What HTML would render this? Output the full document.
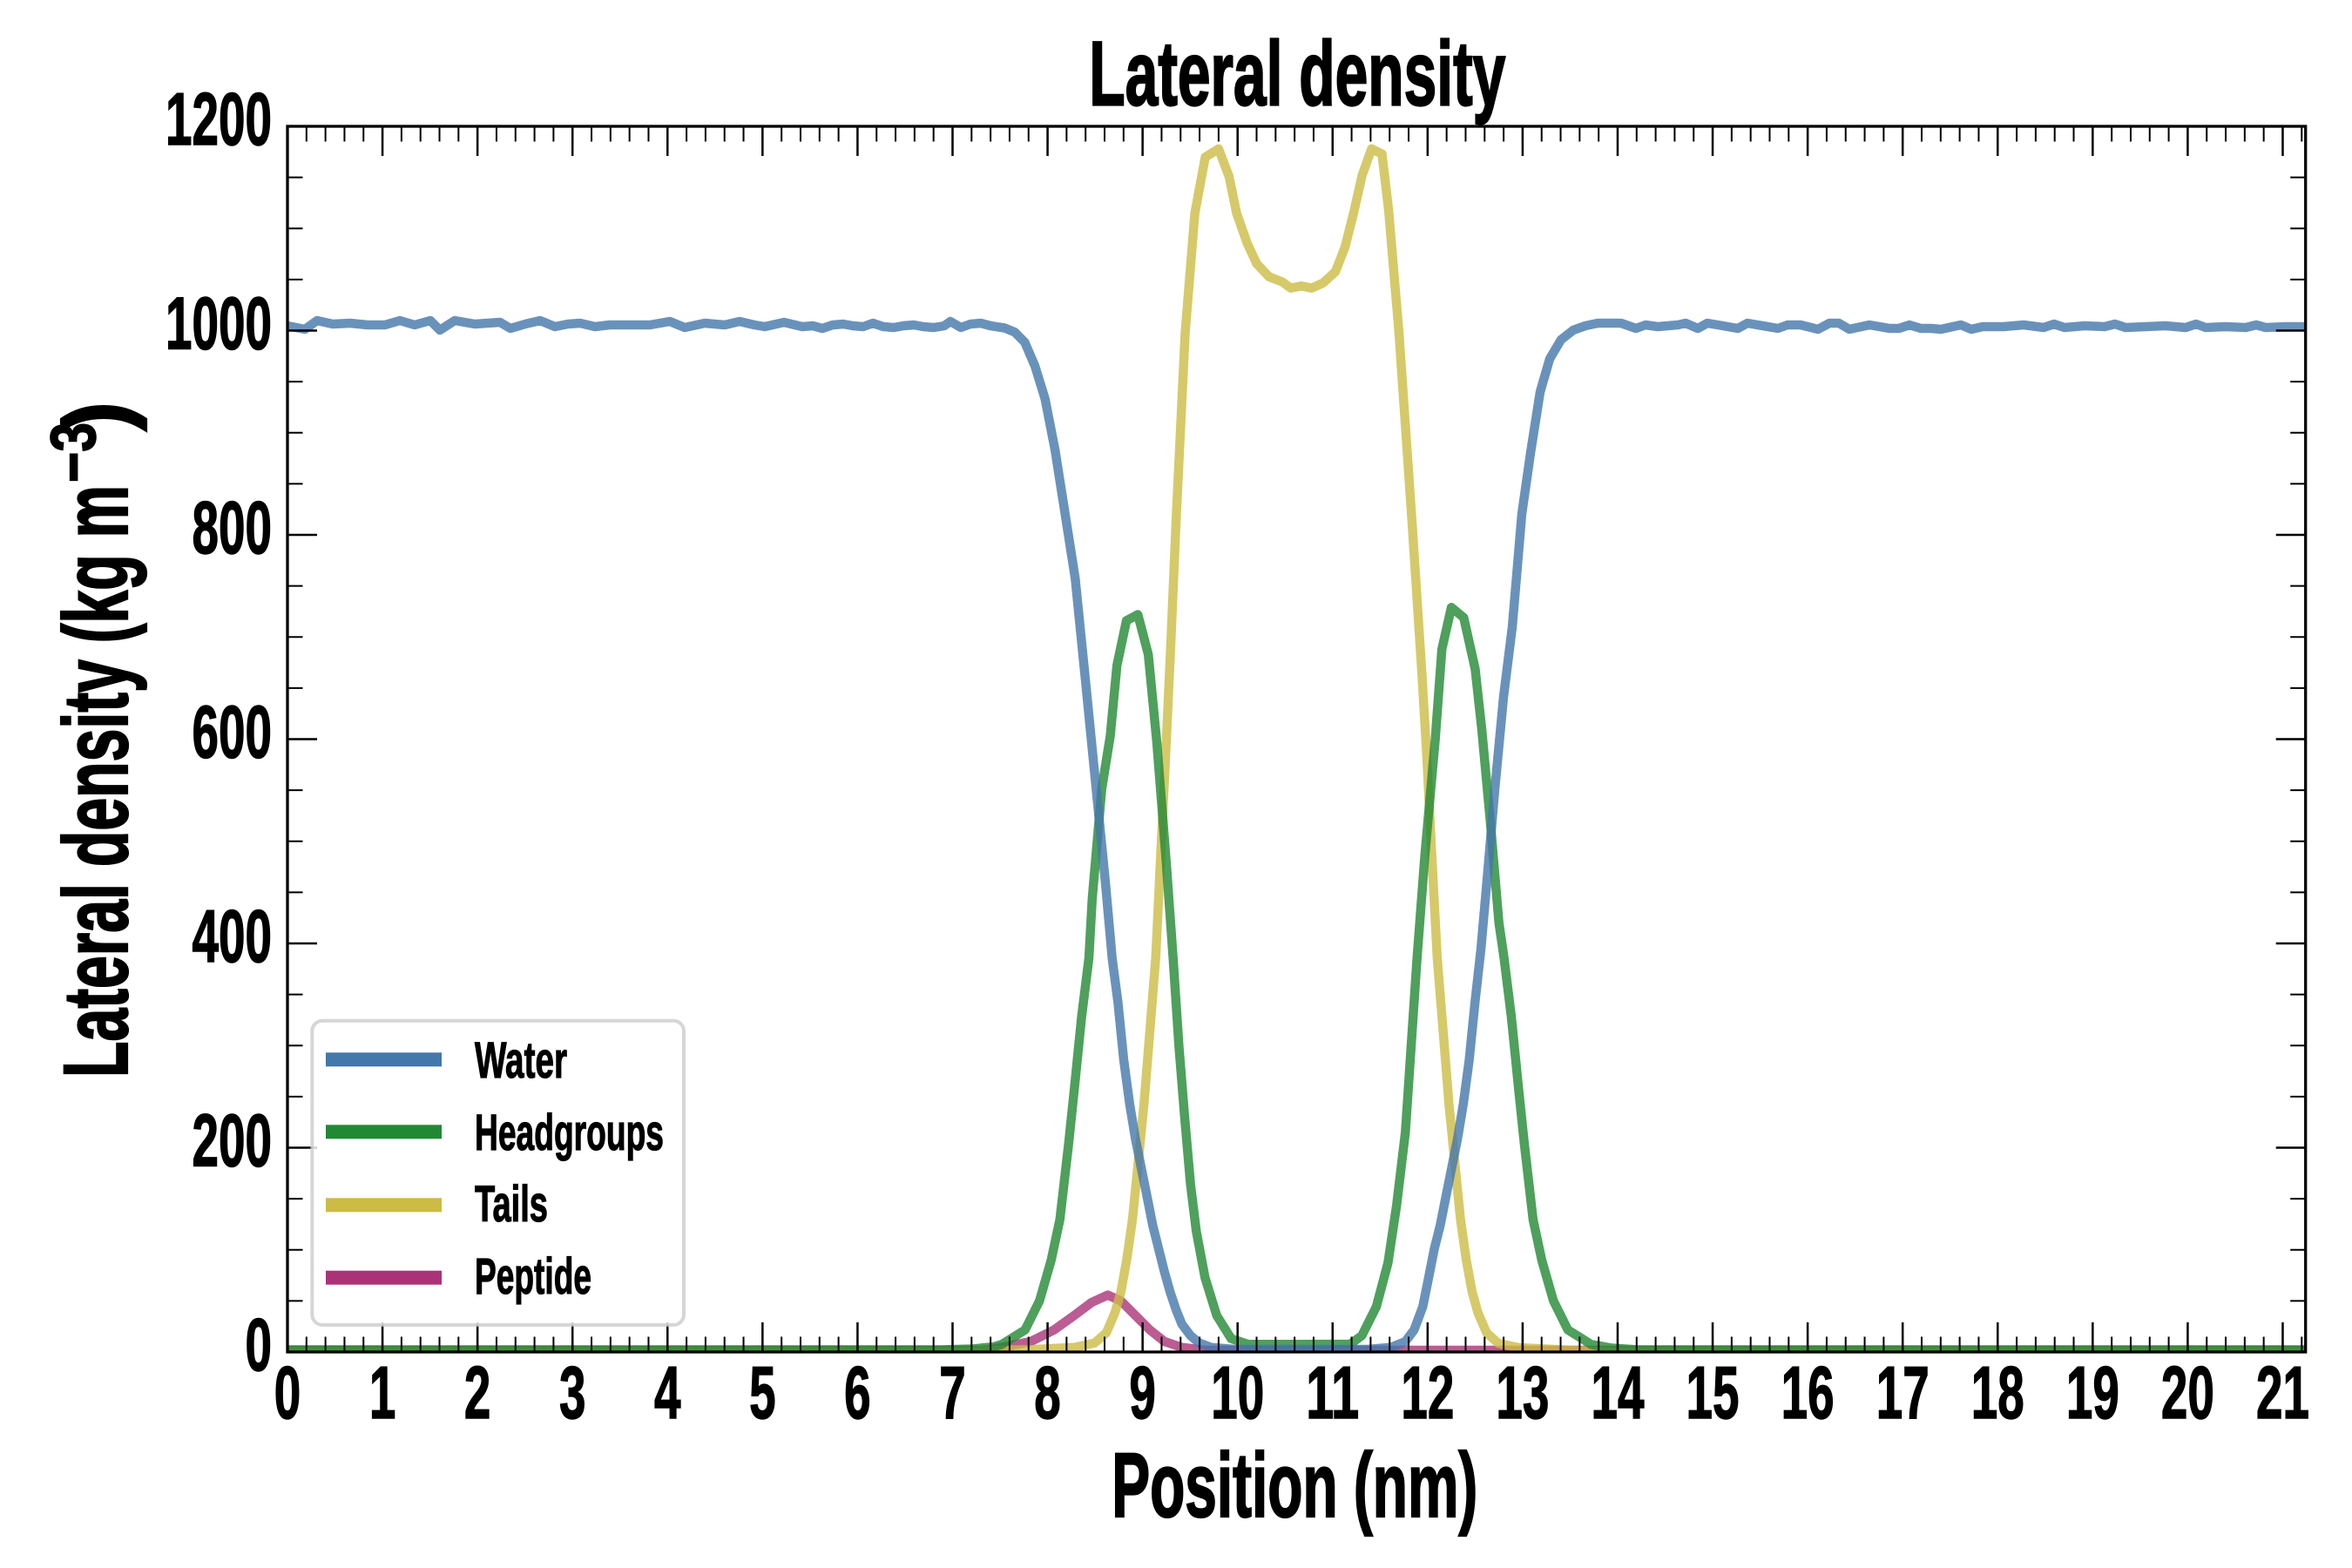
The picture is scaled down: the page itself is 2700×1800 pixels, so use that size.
<!DOCTYPE html>
<html>
<head>
<meta charset="utf-8">
<style>
html,body{margin:0;padding:0;background:#fff;}
svg{display:block;}
text{font-family:"Liberation Sans",Arial,sans-serif;font-weight:bold;fill:#000;stroke:#000;}
</style>
</head>
<body>
<svg width="2700" height="1800" viewBox="0 0 2700 1800" xmlns="http://www.w3.org/2000/svg">
<rect x="0" y="0" width="2700" height="1800" fill="#fff"/>
<defs>
<clipPath id="ax"><rect x="330" y="145" width="2316.7" height="1407"/></clipPath>
</defs>

<!-- data -->
<g clip-path="url(#ax)" fill="none" stroke-width="10.5" stroke-linejoin="round" stroke-opacity="0.8">
<!-- Peptide -->
<polyline stroke="#AA3377" points="320,1550 1130,1550 1150,1546.7 1183.3,1540 1210,1526.7 1233.3,1510 1253.3,1495 1271.7,1486.7 1286.7,1493.3 1303.3,1510 1320,1526.7 1336.7,1540 1356.7,1546.7 1383.3,1550 2660,1550"/>
<!-- Tails -->
<polyline stroke="#CCBB44" points="320,1552 1100,1552 1150,1550 1183.3,1549.3 1233.3,1546.7 1256.7,1541.7 1270,1530 1280,1506.7 1286.7,1483.3 1293.3,1446.7 1300,1400 1306.7,1333.3 1313.3,1266.7 1320,1183.3 1326.7,1100 1332,990 1338,870 1344,740 1350,600 1360.5,382.4 1371.6,244.9 1383.6,180.3 1398.9,170.9 1410.9,202.6 1419.6,244.9 1431.6,278.9 1442.5,302.5 1456.7,317.7 1472,323.6 1481.8,330.7 1493.8,328.3 1505.8,330.7 1518.9,324.8 1533,311.9 1544,283.6 1553.8,244.9 1563.6,201.4 1574.5,170.9 1586.5,176.7 1594.1,241.4 1606,382.4 1621,600 1632.2,772 1637.9,868 1643.7,983 1649.9,1100 1656.6,1183 1663.3,1267 1669.9,1333 1676.6,1400 1683.3,1447 1689.9,1483 1696.6,1507 1706.6,1530 1719.9,1542 1743.3,1547 1793,1549.5 1850,1552 2660,1552"/>
<!-- Headgroups -->
<polyline stroke="#228833" points="320,1549.5 1080,1549.5 1117,1548.5 1141,1546 1150,1543.3 1176.7,1526.7 1193.3,1493.3 1206.7,1446.7 1216.7,1400 1226.7,1313.3 1233.3,1250 1241.7,1166.7 1250,1100 1253.8,1032 1264.7,906 1274.5,845 1282.2,764 1293.1,712.5 1306.2,705.5 1318.2,751.3 1328,852.4 1338.9,991 1346.7,1100 1353.3,1200 1360,1283.3 1366.7,1360 1373.3,1413.3 1383.3,1466.7 1396.7,1510 1413.3,1536.7 1433.3,1543.3 1490,1543.3 1550,1543 1563.3,1533.3 1580,1500 1593.3,1450 1603.3,1383.3 1613.3,1300 1620,1200 1626.7,1100 1635.6,982.8 1647.6,848.8 1655.2,745.4 1666.1,697.3 1680.3,709 1693.4,767.8 1701,837.1 1710.9,944 1720.7,1059.2 1726.6,1100 1734.9,1166.7 1743.3,1250 1749.9,1313.3 1759.9,1400 1769.9,1446.7 1783.3,1493.3 1799.9,1526.7 1826.6,1543.3 1850,1547.5 1880,1549.5 2660,1549.5"/>
<!-- Water -->
<polyline stroke="#4477AA" points="320,374 330,374 350,378 364,368 382,372 402,371 422,373 442,373 459,368 476,373 494,368 505,379 522,368 545,372 574,370 586,377 603,372 620,368 637,375 652,372 666,371 683,375 700,373 723,373 746,373 769,369 786,376 809,371 832,373 849,369 866,373 878,375 900,370 921,375 933,374 944,377 956,373 968,372 979,374 991,375 1002,371 1014,375 1026,376 1037,374 1049,373 1060,375 1072,376 1084,374 1091,369 1103,376 1114,372 1126,371 1137,374 1153.2,376.5 1164.8,381.2 1176.4,392.9 1188,420 1199.6,457.6 1211.1,516.3 1222.7,590 1234.3,664 1245.9,779.5 1257.5,897 1269.1,1014.5 1276.7,1100 1283.3,1150 1290,1216.7 1296.7,1266.7 1303.3,1306.7 1310,1340 1316.7,1373.3 1323.3,1406.7 1330,1433.3 1336.7,1460 1343.3,1483.3 1350,1503.3 1356.7,1520 1366.7,1533.3 1376.7,1541.7 1390,1546.7 1416.7,1549 1570,1549 1596.7,1546.7 1613.3,1540 1623.3,1526.7 1633.3,1500 1640,1466.7 1646.6,1433.3 1653.3,1406.7 1659.9,1373.3 1666.6,1340 1673.3,1306.7 1679.9,1266.7 1686.6,1216.7 1693.3,1150 1700,1090 1707.5,1005 1716,906 1726,800 1736,720 1747,590 1757,520 1768,450 1779,412 1792,390 1806,379 1820,374 1834,371 1861,371 1878,377 1889,373 1903,375 1926,373 1935,371 1949,377 1960,371 1972,373 1995,377 2006,371 2041,377 2052,373 2067,373 2087,378 2100,371 2111,371 2123,378 2146,373 2169,377 2180,377 2192,373 2205,377 2217,377 2228,378 2251,373 2263,378 2276,375 2300,375 2323,373 2346,376 2358,372 2370,376 2393,374 2416,375 2428,372 2440,376 2463,375 2486,374 2509,376 2521,372 2532,376 2555,375 2578,376 2590,373 2601,376 2624,375 2660,375"/>
</g>

<!-- ticks -->
<g stroke="#000" fill="none">
<line x1="328.75" y1="1535" x2="2650" y2="1535" stroke-width="34" stroke-dasharray="2.5 106.57"/>
<line x1="329" y1="1543.25" x2="2650" y2="1543.25" stroke-width="17.5" stroke-dasharray="2 19.814"/>
<line x1="328.75" y1="162" x2="2650" y2="162" stroke-width="34" stroke-dasharray="2.5 106.57"/>
<line x1="329" y1="153.75" x2="2650" y2="153.75" stroke-width="17.5" stroke-dasharray="2 19.814"/>
<line x1="347" y1="1553.25" x2="347" y2="142" stroke-width="34" stroke-dasharray="2.5 232"/>
<line x1="338.75" y1="1553" x2="338.75" y2="142" stroke-width="17.5" stroke-dasharray="2 56.625"/>
<line x1="2629.7" y1="1553.25" x2="2629.7" y2="142" stroke-width="34" stroke-dasharray="2.5 232"/>
<line x1="2637.95" y1="1553" x2="2637.95" y2="142" stroke-width="17.5" stroke-dasharray="2 56.625"/>
</g>

<!-- spines -->
<rect x="330" y="145" width="2316.7" height="1407" fill="none" stroke="#000" stroke-width="3.3"/>

<!-- legend -->
<rect x="358.3" y="1171.7" width="426.7" height="349.3" rx="12" ry="12" fill="#fff" fill-opacity="0.8" stroke="#cccccc" stroke-opacity="0.8" stroke-width="4"/>
<rect x="374" y="1208.3" width="133" height="16" fill="#4477AA"/>
<rect x="374" y="1291.3" width="133" height="16" fill="#228833"/>
<rect x="374" y="1375.3" width="133" height="16" fill="#CCBB44"/>
<rect x="374" y="1458.7" width="133" height="16" fill="#AA3377"/>
<g font-size="58" stroke-width="1.2">
<text x="545" y="1237" textLength="106" lengthAdjust="spacingAndGlyphs">Water</text>
<text x="545" y="1320" textLength="217" lengthAdjust="spacingAndGlyphs">Headgroups</text>
<text x="545" y="1402" textLength="84" lengthAdjust="spacingAndGlyphs">Tails</text>
<text x="545" y="1485" textLength="134" lengthAdjust="spacingAndGlyphs">Peptide</text>
</g>

<!-- y tick labels -->
<g font-size="85" stroke-width="1.4" text-anchor="end">
<text x="312" y="1573" textLength="30.5" lengthAdjust="spacingAndGlyphs">0</text>
<text x="312" y="1338.5" textLength="91.5" lengthAdjust="spacingAndGlyphs">200</text>
<text x="312" y="1104" textLength="91.5" lengthAdjust="spacingAndGlyphs">400</text>
<text x="312" y="869.5" textLength="91.5" lengthAdjust="spacingAndGlyphs">600</text>
<text x="312" y="635" textLength="91.5" lengthAdjust="spacingAndGlyphs">800</text>
<text x="312" y="400.5" textLength="122" lengthAdjust="spacingAndGlyphs">1000</text>
<text x="312" y="166" textLength="122" lengthAdjust="spacingAndGlyphs">1200</text>
</g>

<!-- x tick labels -->
<g font-size="85" stroke-width="1.4" text-anchor="middle">
<text x="330" y="1628" textLength="30.5" lengthAdjust="spacingAndGlyphs">0</text>
<text x="439.07" y="1628" textLength="30.5" lengthAdjust="spacingAndGlyphs">1</text>
<text x="548.14" y="1628" textLength="30.5" lengthAdjust="spacingAndGlyphs">2</text>
<text x="657.21" y="1628" textLength="30.5" lengthAdjust="spacingAndGlyphs">3</text>
<text x="766.28" y="1628" textLength="30.5" lengthAdjust="spacingAndGlyphs">4</text>
<text x="875.35" y="1628" textLength="30.5" lengthAdjust="spacingAndGlyphs">5</text>
<text x="984.42" y="1628" textLength="30.5" lengthAdjust="spacingAndGlyphs">6</text>
<text x="1093.49" y="1628" textLength="30.5" lengthAdjust="spacingAndGlyphs">7</text>
<text x="1202.56" y="1628" textLength="30.5" lengthAdjust="spacingAndGlyphs">8</text>
<text x="1311.63" y="1628" textLength="30.5" lengthAdjust="spacingAndGlyphs">9</text>
<text x="1420.7" y="1628" textLength="61" lengthAdjust="spacingAndGlyphs">10</text>
<text x="1529.77" y="1628" textLength="61" lengthAdjust="spacingAndGlyphs">11</text>
<text x="1638.84" y="1628" textLength="61" lengthAdjust="spacingAndGlyphs">12</text>
<text x="1747.91" y="1628" textLength="61" lengthAdjust="spacingAndGlyphs">13</text>
<text x="1856.98" y="1628" textLength="61" lengthAdjust="spacingAndGlyphs">14</text>
<text x="1966.05" y="1628" textLength="61" lengthAdjust="spacingAndGlyphs">15</text>
<text x="2075.12" y="1628" textLength="61" lengthAdjust="spacingAndGlyphs">16</text>
<text x="2184.19" y="1628" textLength="61" lengthAdjust="spacingAndGlyphs">17</text>
<text x="2293.26" y="1628" textLength="61" lengthAdjust="spacingAndGlyphs">18</text>
<text x="2402.33" y="1628" textLength="61" lengthAdjust="spacingAndGlyphs">19</text>
<text x="2511.4" y="1628" textLength="61" lengthAdjust="spacingAndGlyphs">20</text>
<text x="2620.47" y="1628" textLength="61" lengthAdjust="spacingAndGlyphs">21</text>
</g>

<!-- title -->
<text x="1489.3" y="120.5" font-size="105" stroke-width="2.2" text-anchor="middle" textLength="478" lengthAdjust="spacingAndGlyphs">Lateral density</text>

<!-- x label -->
<text x="1486.3" y="1741" font-size="105" stroke-width="2.2" text-anchor="middle" textLength="420" lengthAdjust="spacingAndGlyphs">Position (nm)</text>

<!-- y label -->
<g transform="rotate(-90)">
<text x="-1237" y="146" font-size="105" stroke-width="2.2" textLength="680" lengthAdjust="spacingAndGlyphs">Lateral density (kg m</text>
<text x="-554" y="109" font-size="73" stroke-width="1.6" textLength="69" lengthAdjust="spacingAndGlyphs">−3</text>
<text x="-495" y="146" font-size="105" stroke-width="2.2" textLength="34" lengthAdjust="spacingAndGlyphs">)</text>
</g>
</svg>
</body>
</html>
